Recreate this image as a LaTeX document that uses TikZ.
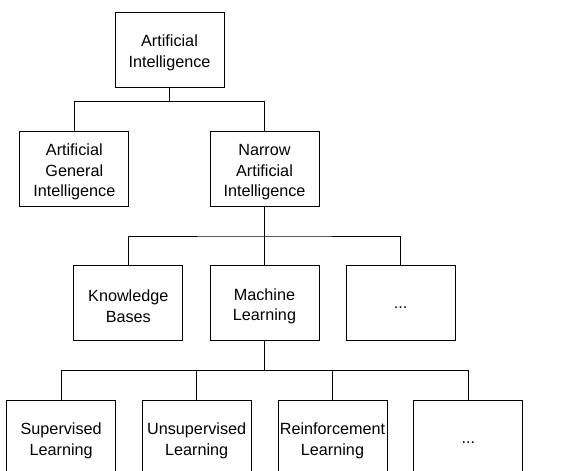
\documentclass[tikz,border=0pt]{standalone}
\usepackage{fontspec}
\setmainfont{Liberation Sans}
\begin{document}
\begin{tikzpicture}[x=1pt,y=1pt,
  box/.style={draw,line width=1pt,minimum width=109pt,minimum height=75pt,inner sep=0pt},
  lab/.style={align=center,inner sep=0pt,yshift=-3pt,font=\fontsize{16.2}{20.6}\selectfont},
  dots/.style={lab,yshift=-1.5pt},
  conn/.style={line width=1pt}]
\useasboundingbox (0,0) rectangle (573,-471);
\clip (0,0) rectangle (573,-471);
\node[box,label={[lab]center:{Artificial\\Intelligence}}] (AI)  at (169.5,-50) {};
\node[box,label={[lab]center:{Artificial\\General\\Intelligence}}] (AGI) at (74.3,-169.2) {};
\node[box,label={[lab]center:{Narrow\\Artificial\\Intelligence}}] (NAI) at (264.5,-169.2) {};
\node[box,label={[lab]center:{Knowledge\\Bases}}] (KB)  at (128.3,-303.2) {};
\node[box,label={[lab]center:{Machine\\Learning}}] (ML)  at (264.5,-303.2) {};
\node[box,label={[dots]center:{...}}] (D1)  at (400.5,-303.2) {};
\node[box,label={[lab]center:{Supervised\\Learning}}] (SL)  at (61.2,-437.7) {};
\node[box,label={[lab]center:{Unsupervised\\Learning}}] (UL)  at (196.7,-437.7) {};
\node[box,label={[lab]center:{Reinforcement\\Learning}}] (RL)  at (332.5,-437.7) {};
\node[box,label={[dots]center:{...}}] (D2)  at (468.3,-437.7) {};
\coordinate (b1) at (169.5,-101.7);
\coordinate (b2) at (264.5,-236);
\coordinate (b3) at (264.5,-370.3);
\draw[conn] (AI.south) -- (b1);
\draw[conn] (AGI.north) |- (b1) -| (NAI.north);
\draw[conn] (NAI.south) -- (b2);
\draw[conn] (KB.north) |- (b2) -| (D1.north);
\draw[conn] (b2) -- (ML.north);
\draw[conn] (ML.south) -- (b3);
\draw[conn] (SL.north) |- (b3) -| (D2.north);
\draw[conn] (UL.north) -- (UL.north |- b3);
\draw[conn] (RL.north) -- (RL.north |- b3);
\end{tikzpicture}
\end{document}
